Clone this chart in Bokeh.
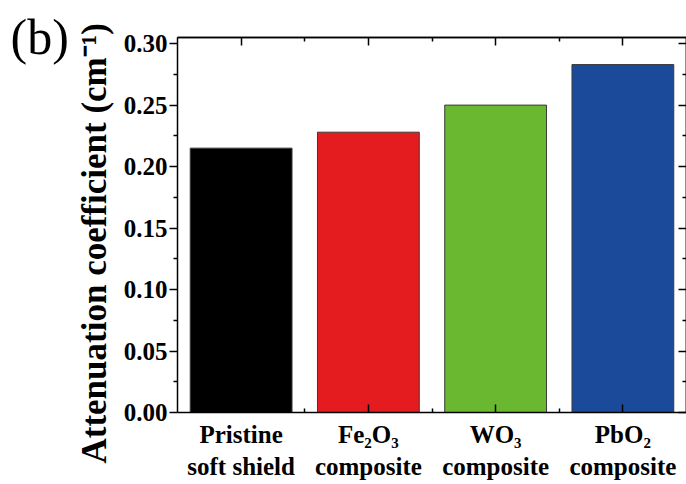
from bokeh.plotting import figure
from bokeh.models import (LinearAxis, FixedTicker, Range1d, Title,
                          NumeralTickFormatter, ColumnDataSource)
from bokeh.embed import file_html
from bokeh.resources import INLINE

# ---- data ----
categories = ["Pristine\nsoft shield", "Fe\u2082O\u2083\ncomposite",
              "WO\u2083\ncomposite", "PbO\u2082\ncomposite"]
values = [0.215, 0.228, 0.250, 0.283]
colors = ["#000000", "#E41B1F", "#6AB82F", "#1C4A9B"]
y_ticks = [0.00, 0.05, 0.10, 0.15, 0.20, 0.25, 0.30]
y_minor_ticks = [0.025, 0.075, 0.125, 0.175, 0.225, 0.275]
y_label = "Attenuation coefficient (cm\u207B\u00B9)"
panel_label = "(b)"

positions = [i + 1 for i in range(len(categories))]
x_minor = [i + 1.5 for i in range(len(categories) - 1)]

src = ColumnDataSource(dict(x=positions, top=values, color=colors))

p = figure(width=686, height=484, output_backend="svg", toolbar_location=None,
           x_range=Range1d(0.5, len(categories) + 0.5), y_range=Range1d(0, 0.305),
           x_axis_type=None, y_axis_type=None,
           min_border_left=177, min_border_right=0, min_border_top=37,
           min_border_bottom=72)
p.outline_line_color = None
p.background_fill_color = "white"

p.vbar(x="x", top="top", width=0.8, fill_color="color", line_color="#3a3a3a",
       line_width=1, source=src)

FONT = "Liberation Serif"
xt = FixedTicker(ticks=positions, minor_ticks=x_minor)
yt = FixedTicker(ticks=y_ticks, minor_ticks=y_minor_ticks)

def style(ax):
    ax.axis_line_color = "black"
    ax.axis_line_width = 1.5
    ax.major_tick_line_color = "black"
    ax.major_tick_line_width = 1.5
    ax.minor_tick_line_color = "black"
    ax.minor_tick_line_width = 1.5

bottom = LinearAxis(ticker=xt, major_label_overrides={pos: lab for pos, lab in zip(positions, categories)})
style(bottom)
bottom.major_tick_in = 8
bottom.major_tick_out = 0
bottom.minor_tick_in = 4
bottom.minor_tick_out = 0
bottom.major_label_standoff = 8
bottom.major_label_text_font = FONT
bottom.major_label_text_font_style = "bold"
bottom.major_label_text_font_size = "25px"
bottom.major_label_text_color = "black"
bottom.major_label_text_line_height = 1.2
p.add_layout(bottom, "below")

left = LinearAxis(ticker=yt, formatter=NumeralTickFormatter(format="0.00"))
style(left)
left.major_tick_in = 0
left.major_tick_out = 8
left.minor_tick_in = 0
left.minor_tick_out = 4
left.major_label_standoff = 2
left.major_label_text_font = FONT
left.major_label_text_font_style = "bold"
left.major_label_text_font_size = "25px"
left.major_label_text_color = "black"
p.add_layout(left, "left")

# top and right frame sides: unlabeled axes (ticks only, as minor ticks)
def tick_only_axis(major, minor, side):
    a1 = LinearAxis(ticker=FixedTicker(ticks=[], minor_ticks=major))
    style(a1)
    a1.minor_tick_in = 8
    a1.minor_tick_out = 0
    a1.major_label_standoff = 0
    p.add_layout(a1, side)
    a2 = LinearAxis(ticker=FixedTicker(ticks=[], minor_ticks=minor))
    style(a2)
    a2.minor_tick_in = 4
    a2.minor_tick_out = 0
    a2.major_label_standoff = 0
    p.add_layout(a2, side)

tick_only_axis(positions, x_minor, "above")
tick_only_axis(y_ticks, y_minor_ticks, "right")

ytitle = Title(text=y_label, align="left", offset=-51, standoff=14,
               text_font=FONT, text_font_style="bold", text_font_size="35px",
               text_color="black")
p.add_layout(ytitle, "left")

btitle = Title(text=panel_label, align="left", offset=-167, standoff=-54,
               text_font=FONT, text_font_style="normal", text_font_size="50px",
               text_color="black")
p.add_layout(btitle, "above")

open("out.html", "w").write(file_html(p, INLINE))
